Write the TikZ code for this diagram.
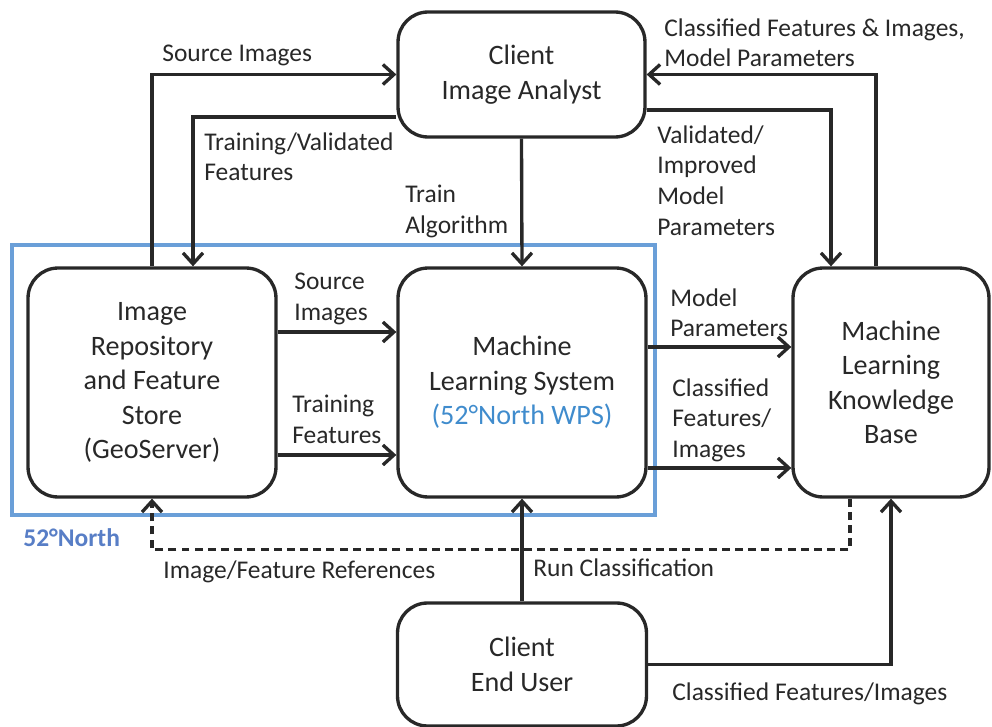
\documentclass[tikz,border=0pt]{standalone}
\usepackage{fontspec}
\setmainfont{Carlito}
\usepackage{tikz}
\usetikzlibrary{arrows.meta}
\definecolor{nnblue}{RGB}{106,159,216}
\definecolor{nntext}{RGB}{88,126,198}
\definecolor{wpsblue}{RGB}{64,140,205}
\definecolor{ink}{RGB}{40,40,40}

\begin{document}
\begin{tikzpicture}[x=0.02cm, y=-0.02cm,
    box/.style={draw=ink, line width=1.9pt, rounded corners=0.6cm, align=center, text=ink,
        font=\fontsize{16}{19.6}\selectfont},
    flow/.style={draw=ink, line width=1.9pt, -{Straight Barb[length=2.2mm,width=4mm]}},
    lbl/.style={anchor=north west, inner sep=0pt, align=left, text=ink,
        font=\fontsize{14.5}{17.6}\selectfont}]
    \useasboundingbox (0,0) rectangle (992,727);

    \draw[nnblue, line width=2.8pt] (12,245) rectangle (655,515);
    \node[lbl, text=nntext, font=\fontsize{14.5}{17.6}\selectfont\bfseries] (nn) at (23,528) {52°North};

    \node[box, minimum width=4.94cm, minimum height=2.5cm]  (CIA)  at (521.5,74.5) {Client\\Image Analyst};
    \node[box, minimum width=4.96cm, minimum height=4.58cm] (IR)   at (152,382.5)  {Image\\Repository\\and Feature\\Store\\(GeoServer)};
    \node[box, minimum width=4.96cm, minimum height=4.58cm] (MLS)  at (522,382.5)  {Machine\\Learning System\\\textcolor{wpsblue}{(52°North WPS)}};
    \node[box, minimum width=3.92cm, minimum height=4.58cm] (MLKB) at (891,382.5)  {Machine\\Learning\\Knowledge\\Base};
    \node[box, minimum width=4.98cm, minimum height=2.46cm] (CEU)  at (522,664.5)  {Client\\End User};

    \draw[flow] (IR.north) |- (CIA.west);
    \draw[flow] ([yshift=-0.85cm]CIA.west) -| ([xshift=0.82cm]IR.north);
    \draw[flow] (CIA.south) -- (MLS.north);
    \draw[flow] ([xshift=-0.3cm]MLKB.north) |- (CIA.east);
    \draw[flow] ([yshift=-0.71cm]CIA.east) -| ([xshift=-1.2cm]MLKB.north);
    \draw[flow] ([yshift=1.01cm]IR.east) -- ([yshift=1.01cm]MLS.west);
    \draw[flow] ([yshift=-1.45cm]IR.east) -- ([yshift=-1.45cm]MLS.west);
    \draw[flow] ([yshift=0.71cm]MLS.east) -- ([yshift=0.71cm]MLKB.west);
    \draw[flow] ([yshift=-1.71cm]MLS.east) -- ([yshift=-1.71cm]MLKB.west);
    \draw[flow, dash pattern=on 4.5pt off 3pt] ([xshift=-0.82cm]MLKB.south) -- ++(0,51) -| (IR.south);
    \draw[flow] (CEU.north) -- (MLS.south);
    \draw[flow] (CEU.east) -| (MLKB.south);

    \node[lbl] (srcA)  at (162,45)  {Source Images};
    \node[lbl] (trval) at (204,132) {Training/Validated\\Features};
    \node[lbl] (train) at (405,185) {Train\\Algorithm};
    \node[lbl] (clsA)  at (664,18)  {Classified Features \& Images,\\Model Parameters};
    \node[lbl] (valid) at (657,125) {Validated/\\Improved\\Model\\Parameters};
    \node[lbl] (srcB)  at (294,273) {Source\\Images};
    \node[lbl] (trfe)  at (292,395) {Training\\Features};
    \node[lbl] (mpar)  at (670,288) {Model\\Parameters};
    \node[lbl] (clsB)  at (672,378) {Classified\\Features/\\Images};
    \node[lbl] (refs)  at (163,560) {Image/Feature References};
    \node[lbl] (run)   at (533,558) {Run Classification};
    \node[lbl] (clsC)  at (672,682) {Classified Features/Images};
\end{tikzpicture}
\end{document}
